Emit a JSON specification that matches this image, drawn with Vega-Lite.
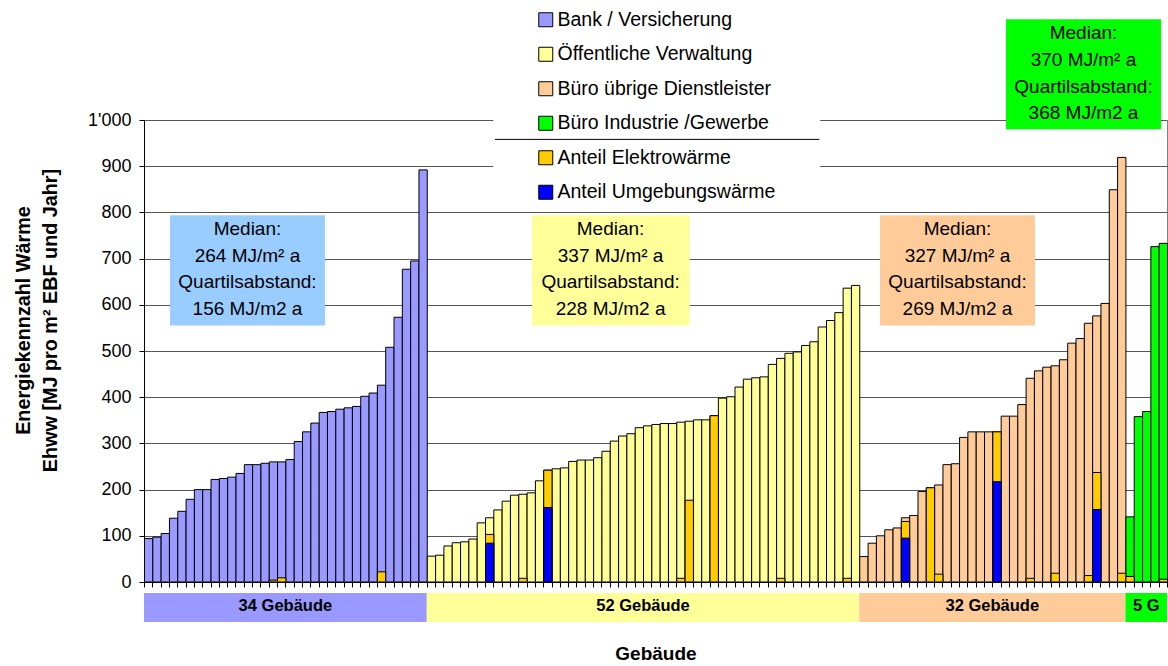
{
  "$schema": "https://vega.github.io/schema/vega-lite/v6.json",
  "background": "white",
  "padding": {"left": 13, "top": 10, "right": 0, "bottom": 0},
  "spacing": 1,
  "config": {
    "font": "Liberation Sans",
    "view": {"stroke": null},
    "axis": {"labelColor": "black", "titleColor": "black", "domainColor": "black", "tickColor": "black"},
    "text": {"color": "black"}
  },
  "datasets": {
    "gebaeude": [
      {"nr": 1, "typ": "Bank / Versicherung", "wert": 94},
      {"nr": 2, "typ": "Bank / Versicherung", "wert": 97},
      {"nr": 3, "typ": "Bank / Versicherung", "wert": 105},
      {"nr": 4, "typ": "Bank / Versicherung", "wert": 138},
      {"nr": 5, "typ": "Bank / Versicherung", "wert": 153},
      {"nr": 6, "typ": "Bank / Versicherung", "wert": 179},
      {"nr": 7, "typ": "Bank / Versicherung", "wert": 200},
      {"nr": 8, "typ": "Bank / Versicherung", "wert": 200},
      {"nr": 9, "typ": "Bank / Versicherung", "wert": 222},
      {"nr": 10, "typ": "Bank / Versicherung", "wert": 224},
      {"nr": 11, "typ": "Bank / Versicherung", "wert": 227},
      {"nr": 12, "typ": "Bank / Versicherung", "wert": 235},
      {"nr": 13, "typ": "Bank / Versicherung", "wert": 254},
      {"nr": 14, "typ": "Bank / Versicherung", "wert": 254},
      {"nr": 15, "typ": "Bank / Versicherung", "wert": 257},
      {"nr": 16, "typ": "Bank / Versicherung", "wert": 260, "elektro": 4},
      {"nr": 17, "typ": "Bank / Versicherung", "wert": 260, "elektro": 9},
      {"nr": 18, "typ": "Bank / Versicherung", "wert": 265},
      {"nr": 19, "typ": "Bank / Versicherung", "wert": 304},
      {"nr": 20, "typ": "Bank / Versicherung", "wert": 325},
      {"nr": 21, "typ": "Bank / Versicherung", "wert": 344},
      {"nr": 22, "typ": "Bank / Versicherung", "wert": 367},
      {"nr": 23, "typ": "Bank / Versicherung", "wert": 369},
      {"nr": 24, "typ": "Bank / Versicherung", "wert": 374},
      {"nr": 25, "typ": "Bank / Versicherung", "wert": 377},
      {"nr": 26, "typ": "Bank / Versicherung", "wert": 380},
      {"nr": 27, "typ": "Bank / Versicherung", "wert": 402},
      {"nr": 28, "typ": "Bank / Versicherung", "wert": 409},
      {"nr": 29, "typ": "Bank / Versicherung", "wert": 426, "elektro": 22},
      {"nr": 30, "typ": "Bank / Versicherung", "wert": 508},
      {"nr": 31, "typ": "Bank / Versicherung", "wert": 573},
      {"nr": 32, "typ": "Bank / Versicherung", "wert": 677},
      {"nr": 33, "typ": "Bank / Versicherung", "wert": 695},
      {"nr": 34, "typ": "Bank / Versicherung", "wert": 892},
      {"nr": 35, "typ": "Öffentliche Verwaltung", "wert": 56},
      {"nr": 36, "typ": "Öffentliche Verwaltung", "wert": 58},
      {"nr": 37, "typ": "Öffentliche Verwaltung", "wert": 78},
      {"nr": 38, "typ": "Öffentliche Verwaltung", "wert": 85},
      {"nr": 39, "typ": "Öffentliche Verwaltung", "wert": 87},
      {"nr": 40, "typ": "Öffentliche Verwaltung", "wert": 93},
      {"nr": 41, "typ": "Öffentliche Verwaltung", "wert": 128},
      {"nr": 42, "typ": "Öffentliche Verwaltung", "wert": 139, "elektro": 103, "umgebung": 84},
      {"nr": 43, "typ": "Öffentliche Verwaltung", "wert": 156},
      {"nr": 44, "typ": "Öffentliche Verwaltung", "wert": 175},
      {"nr": 45, "typ": "Öffentliche Verwaltung", "wert": 188},
      {"nr": 46, "typ": "Öffentliche Verwaltung", "wert": 190, "elektro": 8},
      {"nr": 47, "typ": "Öffentliche Verwaltung", "wert": 193},
      {"nr": 48, "typ": "Öffentliche Verwaltung", "wert": 219},
      {"nr": 49, "typ": "Öffentliche Verwaltung", "wert": 242, "elektro": 242, "umgebung": 161},
      {"nr": 50, "typ": "Öffentliche Verwaltung", "wert": 245},
      {"nr": 51, "typ": "Öffentliche Verwaltung", "wert": 247},
      {"nr": 52, "typ": "Öffentliche Verwaltung", "wert": 261},
      {"nr": 53, "typ": "Öffentliche Verwaltung", "wert": 264},
      {"nr": 54, "typ": "Öffentliche Verwaltung", "wert": 264},
      {"nr": 55, "typ": "Öffentliche Verwaltung", "wert": 269},
      {"nr": 56, "typ": "Öffentliche Verwaltung", "wert": 283},
      {"nr": 57, "typ": "Öffentliche Verwaltung", "wert": 305},
      {"nr": 58, "typ": "Öffentliche Verwaltung", "wert": 316},
      {"nr": 59, "typ": "Öffentliche Verwaltung", "wert": 321},
      {"nr": 60, "typ": "Öffentliche Verwaltung", "wert": 334},
      {"nr": 61, "typ": "Öffentliche Verwaltung", "wert": 338},
      {"nr": 62, "typ": "Öffentliche Verwaltung", "wert": 341},
      {"nr": 63, "typ": "Öffentliche Verwaltung", "wert": 343},
      {"nr": 64, "typ": "Öffentliche Verwaltung", "wert": 343},
      {"nr": 65, "typ": "Öffentliche Verwaltung", "wert": 346, "elektro": 8},
      {"nr": 66, "typ": "Öffentliche Verwaltung", "wert": 348, "elektro": 177},
      {"nr": 67, "typ": "Öffentliche Verwaltung", "wert": 351},
      {"nr": 68, "typ": "Öffentliche Verwaltung", "wert": 351},
      {"nr": 69, "typ": "Öffentliche Verwaltung", "wert": 360, "elektro": 360},
      {"nr": 70, "typ": "Öffentliche Verwaltung", "wert": 398},
      {"nr": 71, "typ": "Öffentliche Verwaltung", "wert": 401},
      {"nr": 72, "typ": "Öffentliche Verwaltung", "wert": 422},
      {"nr": 73, "typ": "Öffentliche Verwaltung", "wert": 439},
      {"nr": 74, "typ": "Öffentliche Verwaltung", "wert": 442},
      {"nr": 75, "typ": "Öffentliche Verwaltung", "wert": 444},
      {"nr": 76, "typ": "Öffentliche Verwaltung", "wert": 471},
      {"nr": 77, "typ": "Öffentliche Verwaltung", "wert": 484, "elektro": 8},
      {"nr": 78, "typ": "Öffentliche Verwaltung", "wert": 495},
      {"nr": 79, "typ": "Öffentliche Verwaltung", "wert": 498},
      {"nr": 80, "typ": "Öffentliche Verwaltung", "wert": 512},
      {"nr": 81, "typ": "Öffentliche Verwaltung", "wert": 520},
      {"nr": 82, "typ": "Öffentliche Verwaltung", "wert": 552},
      {"nr": 83, "typ": "Öffentliche Verwaltung", "wert": 566},
      {"nr": 84, "typ": "Öffentliche Verwaltung", "wert": 583},
      {"nr": 85, "typ": "Öffentliche Verwaltung", "wert": 636, "elektro": 8},
      {"nr": 86, "typ": "Öffentliche Verwaltung", "wert": 642},
      {"nr": 87, "typ": "Büro übrige Dienstleister", "wert": 55},
      {"nr": 88, "typ": "Büro übrige Dienstleister", "wert": 84},
      {"nr": 89, "typ": "Büro übrige Dienstleister", "wert": 100},
      {"nr": 90, "typ": "Büro übrige Dienstleister", "wert": 113},
      {"nr": 91, "typ": "Büro übrige Dienstleister", "wert": 117},
      {"nr": 92, "typ": "Büro übrige Dienstleister", "wert": 139, "elektro": 131, "umgebung": 95},
      {"nr": 93, "typ": "Büro übrige Dienstleister", "wert": 144},
      {"nr": 94, "typ": "Büro übrige Dienstleister", "wert": 196},
      {"nr": 95, "typ": "Büro übrige Dienstleister", "wert": 204, "elektro": 204},
      {"nr": 96, "typ": "Büro übrige Dienstleister", "wert": 210, "elektro": 17},
      {"nr": 97, "typ": "Büro übrige Dienstleister", "wert": 254},
      {"nr": 98, "typ": "Büro übrige Dienstleister", "wert": 256},
      {"nr": 99, "typ": "Büro übrige Dienstleister", "wert": 313},
      {"nr": 100, "typ": "Büro übrige Dienstleister", "wert": 325},
      {"nr": 101, "typ": "Büro übrige Dienstleister", "wert": 325},
      {"nr": 102, "typ": "Büro übrige Dienstleister", "wert": 325},
      {"nr": 103, "typ": "Büro übrige Dienstleister", "wert": 325, "elektro": 325, "umgebung": 217},
      {"nr": 104, "typ": "Büro übrige Dienstleister", "wert": 359},
      {"nr": 105, "typ": "Büro übrige Dienstleister", "wert": 359},
      {"nr": 106, "typ": "Büro übrige Dienstleister", "wert": 384},
      {"nr": 107, "typ": "Büro übrige Dienstleister", "wert": 441, "elektro": 8},
      {"nr": 108, "typ": "Büro übrige Dienstleister", "wert": 457},
      {"nr": 109, "typ": "Büro übrige Dienstleister", "wert": 465},
      {"nr": 110, "typ": "Büro übrige Dienstleister", "wert": 468, "elektro": 19},
      {"nr": 111, "typ": "Büro übrige Dienstleister", "wert": 481},
      {"nr": 112, "typ": "Büro übrige Dienstleister", "wert": 517},
      {"nr": 113, "typ": "Büro übrige Dienstleister", "wert": 527},
      {"nr": 114, "typ": "Büro übrige Dienstleister", "wert": 560, "elektro": 14},
      {"nr": 115, "typ": "Büro übrige Dienstleister", "wert": 576, "elektro": 237, "umgebung": 157},
      {"nr": 116, "typ": "Büro übrige Dienstleister", "wert": 603},
      {"nr": 117, "typ": "Büro übrige Dienstleister", "wert": 849},
      {"nr": 118, "typ": "Büro übrige Dienstleister", "wert": 919, "elektro": 19},
      {"nr": 119, "typ": "Büro Industrie /Gewerbe", "wert": 141, "elektro": 12},
      {"nr": 120, "typ": "Büro Industrie /Gewerbe", "wert": 358},
      {"nr": 121, "typ": "Büro Industrie /Gewerbe", "wert": 369},
      {"nr": 122, "typ": "Büro Industrie /Gewerbe", "wert": 726},
      {"nr": 123, "typ": "Büro Industrie /Gewerbe", "wert": 733, "elektro": 6}
    ],
    "gruppen": [
      {"typ": "Bank / Versicherung", "anzahl": 34, "beschriftung": "34 Gebäude"},
      {"typ": "Öffentliche Verwaltung", "anzahl": 52, "beschriftung": "52 Gebäude"},
      {"typ": "Büro übrige Dienstleister", "anzahl": 32, "beschriftung": "32 Gebäude"},
      {"typ": "Büro Industrie /Gewerbe", "anzahl": 5, "beschriftung": "5 G"}
    ]
  },
  "vconcat": [
    {
      "width": 1023,
      "height": 462,
      "view": {"stroke": "#808080"},
      "resolve": {"axis": {"x": "independent", "y": "independent"}},
      "layer": [
        {
          "data": {"name": "gebaeude"},
          "mark": {"type": "bar", "binSpacing": 0, "stroke": "black", "strokeWidth": 1},
          "encoding": {
            "x": {
              "field": "nr", "type": "quantitative", "bin": {"binned": true, "step": 1},
              "scale": {"domain": [1, 124], "nice": false, "zero": false},
              "axis": {
                "values": [1,2,3,4,5,6,7,8,9,10,11,12,13,14,15,16,17,18,19,20,21,22,23,24,25,26,27,28,29,30,31,32,33,34,35,36,37,38,39,40,41,42,43,44,45,46,47,48,49,50,51,52,53,54,55,56,57,58,59,60,61,62,63,64,65,66,67,68,69,70,71,72,73,74,75,76,77,78,79,80,81,82,83,84,85,86,87,88,89,90,91,92,93,94,95,96,97,98,99,100,101,102,103,104,105,106,107,108,109,110,111,112,113,114,115,116,117,118,119,120,121,122,123,124],
                "labels": false, "grid": false, "title": null, "tickSize": 5, "orient": "bottom"
              }
            },
            "y": {
              "field": "wert", "type": "quantitative", "stack": null,
              "scale": {"domain": [0, 1000], "nice": false},
              "axis": {
                "orient": "left",
                "values": [0, 100, 200, 300, 400, 500, 600, 700, 800, 900, 1000],
                "labelExpr": "datum.value == 1000 ? \"1'000\" : datum.label",
                "labelFontSize": 18, "labelPadding": 8, "tickSize": 5,
                "grid": true, "gridColor": "#555555", "gridWidth": 1,
                "title": ["Energiekennzahl Wärme", "Ehww [MJ pro m² EBF und Jahr]"],
                "titleFontSize": 19.8, "titleFontWeight": "bold", "titleLineHeight": 27,
                "titlePadding": 27, "titleY": 200
              }
            },
            "fill": {
              "field": "typ", "type": "nominal",
              "scale": {
                "domain": ["Bank / Versicherung", "Öffentliche Verwaltung", "Büro übrige Dienstleister", "Büro Industrie /Gewerbe"],
                "range": ["#9999FF", "#FFFF99", "#FFCC99", "#00FF00"]
              },
              "legend": {
                "orient": "none", "legendX": 392, "legendY": -110, "title": null,
                "symbolType": "square", "symbolSize": 196, "symbolStrokeColor": "black", "symbolStrokeWidth": 1,
                "labelFontSize": 19.5, "labelColor": "black", "labelOffset": 2, "labelLimit": 400,
                "rowPadding": 13.5, "padding": 0
              }
            }
          }
        },
        {
          "data": {"name": "gebaeude"},
          "transform": [{"filter": {"field": "elektro", "valid": true}}],
          "mark": {"type": "bar", "binSpacing": 0, "stroke": "black", "strokeWidth": 1},
          "encoding": {
            "x": {"field": "nr", "type": "quantitative", "bin": {"binned": true, "step": 1}, "scale": {"domain": [1, 124], "nice": false, "zero": false}, "axis": null},
            "y": {"field": "elektro", "type": "quantitative", "stack": null, "axis": null},
            "color": {
              "datum": "Anteil Elektrowärme", "type": "nominal",
              "scale": {"domain": ["Anteil Elektrowärme", "Anteil Umgebungswärme"], "range": ["#FFCC00", "#0000FF"]},
              "legend": {
                "orient": "none", "legendX": 392, "legendY": 28, "title": null,
                "symbolType": "square", "symbolSize": 196, "symbolStrokeColor": "black", "symbolStrokeWidth": 1,
                "labelFontSize": 19.5, "labelColor": "black", "labelOffset": 2, "labelLimit": 400,
                "rowPadding": 13.5, "padding": 0
              }
            }
          }
        },
        {
          "data": {"name": "gebaeude"},
          "transform": [{"filter": {"field": "umgebung", "valid": true}}],
          "mark": {"type": "bar", "binSpacing": 0, "stroke": "black", "strokeWidth": 1},
          "encoding": {
            "x": {"field": "nr", "type": "quantitative", "bin": {"binned": true, "step": 1}, "scale": {"domain": [1, 124], "nice": false, "zero": false}, "axis": null},
            "y": {"field": "umgebung", "type": "quantitative", "stack": null, "axis": null},
            "color": {"datum": "Anteil Umgebungswärme", "type": "nominal"}
          }
        },
        {
          "data": {"values": [{"bereich": "Legende"}]},
          "mark": {"type": "rect", "fill": "white", "stroke": null},
          "encoding": {
            "x": {"datum": 43.0, "type": "quantitative", "scale": {"domain": [1, 124], "nice": false, "zero": false}, "axis": null},
            "x2": {"datum": 82.3},
            "y": {"datum": 1012, "type": "quantitative", "axis": null},
            "y2": {"datum": 850}
          }
        },
        {
          "data": {"values": [{"bereich": "Legende"}]},
          "mark": {"type": "rule", "color": "black", "strokeWidth": 1},
          "encoding": {
            "x": {"datum": 43.2, "type": "quantitative", "scale": {"domain": [1, 124], "nice": false, "zero": false}, "axis": null},
            "x2": {"datum": 82.2},
            "y": {"datum": 958, "type": "quantitative", "axis": null}
          }
        },
        {
          "data": {"values": [{"typ": "Bank / Versicherung", "median": 264, "quartilsabstand": 156}]},
          "layer": [
            {
              "mark": {"type": "rect", "fill": "#99CCFF"},
              "encoding": {
                "x": {"datum": 4.13, "type": "quantitative", "scale": {"domain": [1, 124], "nice": false, "zero": false}, "axis": null},
                "x2": {"datum": 22.76},
                "y": {"datum": 794, "type": "quantitative", "axis": null},
                "y2": {"datum": 555}
              }
            },
            {
              "mark": {"type": "text", "text": ["Median:", "264 MJ/m² a", "Quartilsabstand:", "156 MJ/m2 a"], "fontSize": 19, "lineHeight": 26.7, "align": "center", "baseline": "middle"},
              "encoding": {
                "x": {"datum": 13.44, "type": "quantitative", "scale": {"domain": [1, 124], "nice": false, "zero": false}, "axis": null},
                "y": {"datum": 764, "type": "quantitative", "axis": null}
              }
            }
          ]
        },
        {
          "data": {"values": [{"typ": "Öffentliche Verwaltung", "median": 337, "quartilsabstand": 228}]},
          "layer": [
            {
              "mark": {"type": "rect", "fill": "#FFFF99"},
              "encoding": {
                "x": {"datum": 47.65, "type": "quantitative", "scale": {"domain": [1, 124], "nice": false, "zero": false}, "axis": null},
                "x2": {"datum": 66.6},
                "y": {"datum": 794, "type": "quantitative", "axis": null},
                "y2": {"datum": 555}
              }
            },
            {
              "mark": {"type": "text", "text": ["Median:", "337 MJ/m² a", "Quartilsabstand:", "228 MJ/m2 a"], "fontSize": 19, "lineHeight": 26.7, "align": "center", "baseline": "middle"},
              "encoding": {
                "x": {"datum": 57.1, "type": "quantitative", "scale": {"domain": [1, 124], "nice": false, "zero": false}, "axis": null},
                "y": {"datum": 764, "type": "quantitative", "axis": null}
              }
            }
          ]
        },
        {
          "data": {"values": [{"typ": "Büro übrige Dienstleister", "median": 327, "quartilsabstand": 269}]},
          "layer": [
            {
              "mark": {"type": "rect", "fill": "#FFCC99"},
              "encoding": {
                "x": {"datum": 89.49, "type": "quantitative", "scale": {"domain": [1, 124], "nice": false, "zero": false}, "axis": null},
                "x2": {"datum": 108.13},
                "y": {"datum": 794, "type": "quantitative", "axis": null},
                "y2": {"datum": 555}
              }
            },
            {
              "mark": {"type": "text", "text": ["Median:", "327 MJ/m² a", "Quartilsabstand:", "269 MJ/m2 a"], "fontSize": 19, "lineHeight": 26.7, "align": "center", "baseline": "middle"},
              "encoding": {
                "x": {"datum": 98.81, "type": "quantitative", "scale": {"domain": [1, 124], "nice": false, "zero": false}, "axis": null},
                "y": {"datum": 764, "type": "quantitative", "axis": null}
              }
            }
          ]
        },
        {
          "data": {"values": [{"typ": "Büro Industrie /Gewerbe", "median": 370, "quartilsabstand": 368}]},
          "layer": [
            {
              "mark": {"type": "rect", "fill": "#00FF00"},
              "encoding": {
                "x": {"datum": 104.64, "type": "quantitative", "scale": {"domain": [1, 124], "nice": false, "zero": false}, "axis": null},
                "x2": {"datum": 123.28},
                "y": {"datum": 1218, "type": "quantitative", "axis": null},
                "y2": {"datum": 980}
              }
            },
            {
              "mark": {"type": "text", "text": ["Median:", "370 MJ/m² a", "Quartilsabstand:", "368 MJ/m2 a"], "fontSize": 19, "lineHeight": 26.7, "align": "center", "baseline": "middle"},
              "encoding": {
                "x": {"datum": 113.96, "type": "quantitative", "scale": {"domain": [1, 124], "nice": false, "zero": false}, "axis": null},
                "y": {"datum": 1188, "type": "quantitative", "axis": null}
              }
            }
          ]
        }
      ]
    },
    {
      "width": 1023,
      "height": 29,
      "data": {"name": "gruppen"},
      "transform": [
        {"stack": "anzahl", "groupby": [], "as": ["von", "bis"]},
        {"calculate": "(datum.von + datum.bis) / 2", "as": "mitte"}
      ],
      "layer": [
        {
          "mark": {"type": "rect"},
          "encoding": {
            "x": {
              "field": "von", "type": "quantitative",
              "scale": {"domain": [0, 123], "nice": false, "zero": false},
              "axis": {"title": "Gebäude", "labels": false, "ticks": false, "domain": false, "grid": false, "titleFontSize": 19, "titleFontWeight": "bold", "titlePadding": 22}
            },
            "x2": {"field": "bis"},
            "fill": {
              "field": "typ", "type": "nominal", "legend": null,
              "scale": {
                "domain": ["Bank / Versicherung", "Öffentliche Verwaltung", "Büro übrige Dienstleister", "Büro Industrie /Gewerbe"],
                "range": ["#9999FF", "#FFFF99", "#FFCC99", "#00FF00"]
              }
            }
          }
        },
        {
          "mark": {"type": "text", "fontSize": 16.5, "fontWeight": "bold", "align": "center", "baseline": "middle", "dy": -2},
          "encoding": {
            "x": {"field": "mitte", "type": "quantitative"},
            "text": {"field": "beschriftung"}
          }
        }
      ]
    }
  ]
}
